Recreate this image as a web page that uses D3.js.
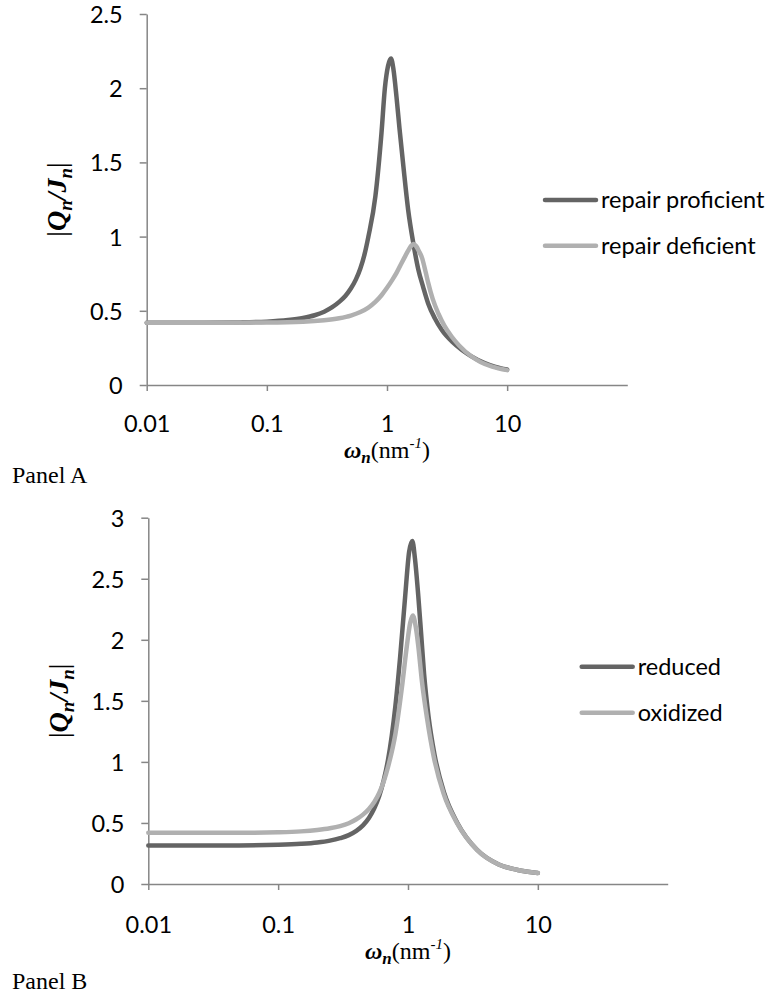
<!DOCTYPE html>
<html>
<head>
<meta charset="utf-8">
<script src="https://cdn.jsdelivr.net/npm/d3@7"></script>
<style>
  body { margin: 0; background: #fff; }
  svg { display: block; }
</style>
</head>
<body>
<div id="chart"></div>
<script>
// ---- data ----
const xTicks = [0.01, 0.1, 1, 10];
const yTicksA = [0, 0.5, 1, 1.5, 2, 2.5];
const yTicksB = [0, 0.5, 1, 1.5, 2, 2.5, 3];

// Panel A
const omegaProficient = [0.01, 0.03, 0.06, 0.1, 0.15, 0.2, 0.25, 0.3, 0.35, 0.4, 0.45, 0.5, 0.55, 0.6, 0.65, 0.7, 0.8, 0.9, 0.96, 1.02, 1.08, 1.13, 1.2, 1.27, 1.37, 1.5, 1.66, 1.82, 2.0, 2.2, 2.5, 2.86, 3.5, 4.2, 5, 6.5, 8, 10];
const valProficient   = [0.42, 0.42, 0.422, 0.427, 0.438, 0.452, 0.47, 0.494, 0.524, 0.56, 0.6, 0.65, 0.71, 0.785, 0.88, 1.0, 1.27, 1.7, 2.0, 2.15, 2.2, 2.13, 1.94, 1.73, 1.47, 1.18, 0.95, 0.78, 0.66, 0.55, 0.45, 0.37, 0.29, 0.236, 0.195, 0.148, 0.122, 0.104];
const omegaDeficient = [0.01, 0.05, 0.1, 0.2, 0.3, 0.4, 0.5, 0.6, 0.7, 0.8, 0.9, 1.0, 1.1, 1.2, 1.3, 1.4, 1.5, 1.58, 1.66, 1.75, 1.85, 1.95, 2.1, 2.2, 2.4, 2.68, 3.0, 3.46, 4.0, 5.0, 6.0, 7.5, 10];
const valDeficient   = [0.42, 0.42, 0.421, 0.426, 0.436, 0.45, 0.468, 0.492, 0.522, 0.56, 0.605, 0.655, 0.705, 0.755, 0.81, 0.86, 0.905, 0.935, 0.95, 0.935, 0.9, 0.86, 0.76, 0.69, 0.58, 0.48, 0.4, 0.325, 0.265, 0.195, 0.155, 0.124, 0.1];

// Panel B
const omegaReduced = [0.01, 0.05, 0.1, 0.15, 0.2, 0.25, 0.3, 0.35, 0.4, 0.45, 0.5, 0.55, 0.6, 0.65, 0.7, 0.8, 0.87, 0.95, 1.02, 1.08, 1.13, 1.2, 1.26, 1.33, 1.44, 1.6, 1.9, 2.4, 3.4, 5.0, 7.0, 10];
const valReduced   = [0.315, 0.316, 0.321, 0.329, 0.34, 0.355, 0.375, 0.4, 0.435, 0.48, 0.54, 0.62, 0.72, 0.85, 1.01, 1.46, 1.86, 2.35, 2.72, 2.81, 2.67, 2.36, 2.06, 1.72, 1.37, 1.06, 0.745, 0.5, 0.28, 0.16, 0.115, 0.09];
const omegaOxidized = [0.01, 0.05, 0.1, 0.15, 0.2, 0.25, 0.3, 0.35, 0.4, 0.45, 0.5, 0.55, 0.6, 0.65, 0.7, 0.8, 0.9, 0.98, 1.04, 1.09, 1.15, 1.2, 1.28, 1.4, 1.58, 1.88, 2.4, 3.4, 5.0, 7.0, 10];
const valOxidized   = [0.42, 0.42, 0.424, 0.431, 0.442, 0.456, 0.474, 0.498, 0.53, 0.568, 0.615, 0.672, 0.745, 0.84, 0.955, 1.23, 1.62, 1.95, 2.14, 2.2, 2.1, 1.95, 1.66, 1.36, 1.04, 0.74, 0.495, 0.28, 0.16, 0.115, 0.09];

const dark = "#646464", light = "#b0b0b0", axisCol = "#868686";
const sans = "Lato, 'Open Sans', sans-serif";
const serif = "'Liberation Serif', 'Times New Roman', serif";

const svg = d3.select("#chart").append("svg")
  .attr("width", 769)
  .attr("height", 995);

function drawPanel(p) {
  const x = d3.scaleLog().domain([0.01, 100]).range([p.left, p.right]);
  const y = d3.scaleLinear().domain([0, p.yMax]).range([p.bottom, p.top]);
  const g = svg.append("g");

  // x axis
  const gx = g.append("g")
    .attr("transform", `translate(0,${p.bottom})`)
    .call(d3.axisBottom(x).tickValues(xTicks).tickFormat(d => String(d)).tickSize(6).tickSizeOuter(0));
  gx.selectAll("text").attr("y", p.xLabelY).attr("dy", null);

  // y axis
  const gy = g.append("g")
    .attr("transform", `translate(${p.left},0)`)
    .call(d3.axisLeft(y).tickValues(p.yTicks).tickFormat(d => String(d)).tickSize(7).tickPadding(17).tickSizeOuter(0));
  gy.selectAll("text").attr("dy", "0.36em");

  g.selectAll(".domain, .tick line").attr("stroke", axisCol).attr("stroke-width", 1.5);
  g.selectAll(".tick text")
    .attr("fill", "#000")
    .style("font-family", sans)
    .style("font-size", "23.5px");

  // lines (dark first, light on top)
  const line = d3.line()
    .x(d => x(d[0]))
    .y(d => y(d[1]))
    .curve(d3.curveMonotoneX);

  p.series.forEach(s => {
    g.append("path")
      .datum(d3.zip(s.omega, s.val))
      .attr("fill", "none")
      .attr("stroke", s.color)
      .attr("stroke-width", 4.5)
      .attr("stroke-linecap", "round")
      .attr("stroke-linejoin", "round")
      .attr("d", line);
  });

  // legend
  p.series.forEach((s, i) => {
    const ly = p.legendY + i * p.legendGap;
    g.append("line")
      .attr("x1", p.legendX).attr("x2", p.legendX + 51)
      .attr("y1", ly).attr("y2", ly)
      .attr("stroke", s.color).attr("stroke-width", 4.5)
      .attr("stroke-linecap", "round");
    g.append("text")
      .attr("x", p.legendX + 56).attr("y", ly + 8)
      .style("font-family", sans)
      .style("font-size", "23.5px")
      .text(s.name);
  });

  // y title |Qn/Jn|
  const yt = g.append("text")
    .attr("transform", `translate(${p.yTitleX},${(p.top + p.bottom) / 2}) rotate(-90)`)
    .attr("text-anchor", "middle")
    .style("font-family", serif)
    .style("font-size", "28px");
  yt.append("tspan").text("|");
  yt.append("tspan").attr("font-weight", "bold").attr("font-style", "italic").text("Q");
  yt.append("tspan").attr("font-weight", "bold").attr("font-style", "italic").attr("font-size", "19px").attr("dy", 6).text("n");
  yt.append("tspan").attr("font-weight", "bold").attr("font-style", "italic").attr("dy", -6).text("/");
  yt.append("tspan").attr("font-weight", "bold").attr("font-style", "italic").text("J");
  yt.append("tspan").attr("font-weight", "bold").attr("font-style", "italic").attr("font-size", "19px").attr("dy", 6).text("n");
  yt.append("tspan").attr("dy", -6).text("|");

  // x title ωn(nm-1)
  const xt = g.append("text")
    .attr("x", x(1)).attr("y", p.xTitleY)
    .attr("text-anchor", "middle")
    .style("font-family", serif)
    .style("font-size", "24px");
  xt.append("tspan").attr("font-weight", "bold").attr("font-style", "italic").text("ω");
  xt.append("tspan").attr("font-weight", "bold").attr("font-style", "italic").attr("font-size", "17px").attr("dy", 5).text("n");
  xt.append("tspan").attr("dy", -5).text("(nm");
  xt.append("tspan").attr("font-size", "15px").attr("dy", -10).text("-");
  xt.append("tspan").attr("font-size", "15px").attr("font-style", "italic").text("1");
  xt.append("tspan").attr("dy", 10).text(")");

  // panel label
  svg.append("text")
    .attr("x", 12).attr("y", p.panelY)
    .style("font-family", serif)
    .style("font-size", "24px")
    .text(p.panel);
}

drawPanel({
  left: 146.7, right: 627.3, top: 14, bottom: 385, yMax: 2.5, yTicks: yTicksA,
  xLabelY: 47, xTitleY: 458, yTitleX: 66, panelY: 483, panel: "Panel A",
  legendX: 545, legendY: 200, legendGap: 45.7,
  series: [
    { name: "repair proficient", omega: omegaProficient, val: valProficient, color: dark },
    { name: "repair deficient", omega: omegaDeficient, val: valDeficient, color: light }
  ]
});

drawPanel({
  left: 148.3, right: 667.7, top: 517.7, bottom: 884, yMax: 3, yTicks: yTicksB,
  xLabelY: 49, xTitleY: 959, yTitleX: 68, panelY: 989, panel: "Panel B",
  legendX: 581.7, legendY: 666.7, legendGap: 46,
  series: [
    { name: "reduced", omega: omegaReduced, val: valReduced, color: dark },
    { name: "oxidized", omega: omegaOxidized, val: valOxidized, color: light }
  ]
});
</script>
</body>
</html>
